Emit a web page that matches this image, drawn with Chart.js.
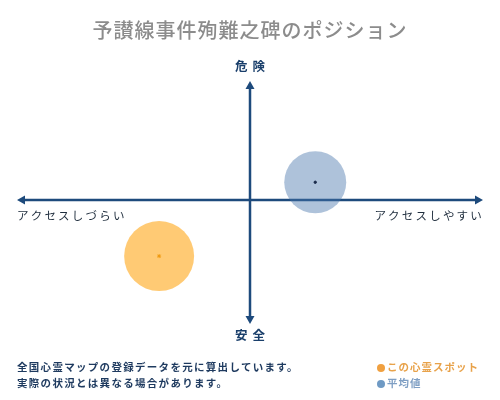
<!DOCTYPE html>
<html>
<head>
<meta charset="utf-8">
<script src="https://cdn.jsdelivr.net/npm/chart.js@4"></script>
<style>
  html, body { margin: 0; padding: 0; background: #fff; }
  #wrap { position: relative; width: 500px; height: 400px; font-family: 'Noto Sans CJK JP', sans-serif; }
  #note { position: absolute; left: 17px; top: 359px; font-size: 10.5px; font-weight: bold; letter-spacing: 1.3px; line-height: 16px; color: #1e3a5f; }
  #legend { position: absolute; left: 377px; top: 359px; font-size: 10.5px; font-weight: bold; letter-spacing: 1px; line-height: 16px; }
  #legend span.dot { display: inline-block; width: 8px; height: 8px; border-radius: 50%; margin-right: 2px; vertical-align: -0.5px; }
</style>
</head>
<body>
<div id="wrap">
  <canvas id="positionChart" width="500" height="400"></canvas>
  <div id="note">全国心霊マップの登録データを元に算出しています。<br>実際の状況とは異なる場合があります。</div>
  <div id="legend"></div>
</div>
<script>
// Data
const categories = ['この心霊スポット', '平均値'];
const accessValues = [-3.9, 2.8];   // x: アクセスしづらい(-) ～ アクセスしやすい(+)
const dangerValues = [-4.7, 1.5];   // y: 安全(-) ～ 危険(+)
const axisLabels = { top: '危険', bottom: '安全', left: 'アクセスしづらい', right: 'アクセスしやすい' };
const titleText = '予讃線事件殉難之碑のポジション';

const fillColors = ['rgba(255, 170, 30, 0.62)', 'rgba(70, 115, 170, 0.44)'];
const dotColors = ['#f09a10', '#1a2a4a'];
const legendDot = ['#f0a040', '#6f9ac4'];
const legendText = ['#e8a24a', '#7f9fc4'];
const bubbleRadius = [35, 31];
const axisColor = '#1d4a7c';

// Legend (HTML)
const legend = document.getElementById('legend');
categories.forEach(function(name, i) {
    const row = document.createElement('div');
    row.style.color = legendText[i];
    row.innerHTML = '<span class="dot" style="background:' + legendDot[i] + '"></span>' + name;
    legend.appendChild(row);
});

// Axes with arrows + labels
const quadrantPlugin = {
    id: 'quadrant',
    beforeDatasetsDraw: function(chart) {
        const ctx = chart.ctx;
        const area = chart.chartArea;
        const x0 = chart.scales.x.getPixelForValue(0);
        const y0 = chart.scales.y.getPixelForValue(0);
        ctx.save();
        ctx.strokeStyle = axisColor;
        ctx.fillStyle = axisColor;
        ctx.lineWidth = 2.5;
        ctx.beginPath();
        ctx.moveTo(area.left + 5, y0);
        ctx.lineTo(area.right - 5, y0);
        ctx.moveTo(x0, area.top + 5);
        ctx.lineTo(x0, area.bottom - 5);
        ctx.stroke();

        const a = 8, w = 4.5;
        ctx.beginPath();
        // left
        ctx.moveTo(area.left, y0); ctx.lineTo(area.left + a, y0 - w); ctx.lineTo(area.left + a, y0 + w); ctx.closePath();
        // right
        ctx.moveTo(area.right, y0); ctx.lineTo(area.right - a, y0 - w); ctx.lineTo(area.right - a, y0 + w); ctx.closePath();
        // top
        ctx.moveTo(x0, area.top); ctx.lineTo(x0 - w, area.top + a); ctx.lineTo(x0 + w, area.top + a); ctx.closePath();
        // bottom
        ctx.moveTo(x0, area.bottom); ctx.lineTo(x0 - w, area.bottom - a); ctx.lineTo(x0 + w, area.bottom - a); ctx.closePath();
        ctx.fill();
        ctx.restore();
    },
    afterDraw: function(chart) {
        const ctx = chart.ctx;
        const area = chart.chartArea;
        const x0 = chart.scales.x.getPixelForValue(0);
        const y0 = chart.scales.y.getPixelForValue(0);
        ctx.save();
        ctx.textBaseline = 'middle';

        // title
        ctx.font = '500 20px "Noto Sans CJK JP"';
        ctx.fillStyle = '#8c8c8c';
        ctx.textAlign = 'center';
        ctx.letterSpacing = '1px';
        ctx.fillText(titleText, chart.width / 2, 30);

        // top / bottom labels
        ctx.font = 'bold 12.5px "Noto Sans CJK JP"';
        ctx.fillStyle = '#1a3f6b';
        ctx.letterSpacing = '5px';
        ctx.fillText(axisLabels.top, x0 + 2.5, 66);
        ctx.fillText(axisLabels.bottom, x0 + 2.5, 335);

        // left / right labels
        ctx.font = '11.5px "Noto Sans CJK JP"';
        ctx.fillStyle = '#1f2d3d';
        ctx.letterSpacing = '2.2px';
        ctx.textAlign = 'left';
        ctx.fillText(axisLabels.left, area.left, y0 + 16);
        ctx.textAlign = 'right';
        ctx.fillText(axisLabels.right, area.right + 1, y0 + 16);
        ctx.restore();
    }
};

const ctx = document.getElementById('positionChart').getContext('2d');
const datasets = [];
categories.forEach(function(name, i) {
    datasets.push({
        type: 'scatter',
        label: name + '(中心)',
        data: [{ x: accessValues[i], y: dangerValues[i] }],
        pointRadius: i === 0 ? 2 : 1.2,
        pointStyle: i === 0 ? 'star' : 'circle',
        backgroundColor: dotColors[i],
        borderColor: dotColors[i],
        borderWidth: 1,
        order: 0
    });
});
categories.forEach(function(name, i) {
    datasets.push({
        type: 'bubble',
        label: name,
        data: [{ x: accessValues[i], y: dangerValues[i] }],
        radius: bubbleRadius[i],
        backgroundColor: fillColors[i],
        borderWidth: 0,
        order: 1
    });
});

const positionChart = new Chart(ctx, {
    type: 'bubble',
    data: { datasets: datasets },
    plugins: [quadrantPlugin],
    options: {
        responsive: false,
        animation: false,
        events: [],
        layout: { autoPadding: false, padding: { left: 17, right: 17, top: 81, bottom: 76 } },
        plugins: {
            legend: { display: false },
            title: { display: false },
            tooltip: { enabled: false }
        },
        scales: {
            x: { type: 'linear', min: -10, max: 10, display: false },
            y: { type: 'linear', min: -10.4, max: 10, display: false }
        }
    }
});
</script>
</body>
</html>
